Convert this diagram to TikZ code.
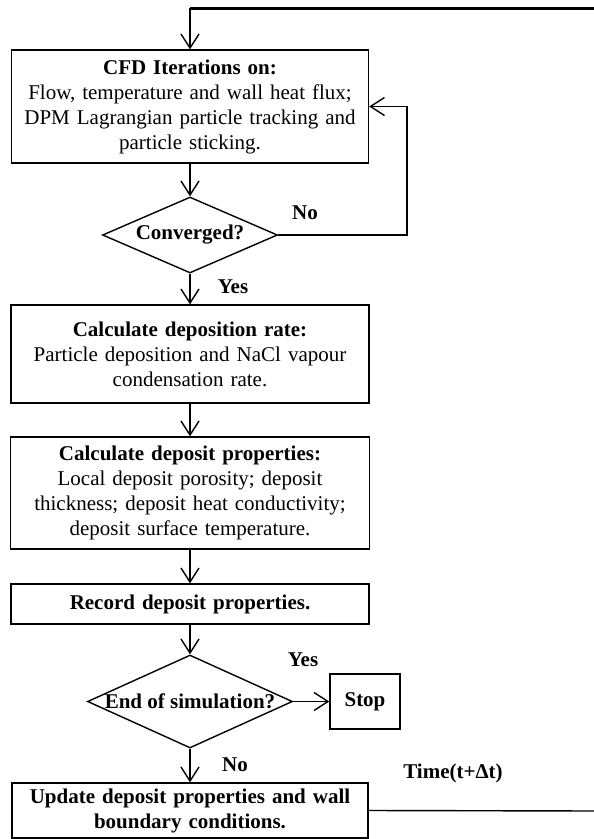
\documentclass[tikz,border=0pt]{standalone}
\usepackage{fontspec}
\setmainfont{Liberation Serif}
\usetikzlibrary{shapes.geometric,arrows.meta}
\begin{document}
\begin{tikzpicture}[x=1pt,y=-1pt,
  every node/.style={font=\fontsize{21}{25}\selectfont},
  box/.style={draw,line width=1.4pt,inner sep=0pt,align=center,text width=350pt},
  dia/.style={draw,diamond,line width=1.4pt,inner sep=0pt},
  arr/.style={line width=1.4pt,-{Straight Barb[length=14pt,width=18pt,line width=1.4pt]}},
  lbl/.style={font=\bfseries\fontsize{21}{25}\selectfont}
]
\useasboundingbox (0,0) rectangle (594,839);

\node[box,minimum width=357pt,minimum height=113pt] (b1) at (190,106.5)
  {\textbf{CFD Iterations on:}\\Flow, temperature and wall heat flux;\\DPM Lagrangian particle tracking and\\particle sticking.};
\node[dia,minimum width=175pt,minimum height=76pt] (d1) at (190,235) {};
\node[lbl] at (d1) {Converged?};
\node[box,minimum width=358pt,minimum height=98pt] (b2) at (190,354)
  {\textbf{Calculate deposition rate:}\\Particle deposition and NaCl vapour\\condensation rate.};
\node[box,minimum width=359pt,minimum height=112pt] (b3) at (190,493)
  {\textbf{Calculate deposit properties:}\\Local deposit porosity; deposit\\thickness; deposit heat conductivity;\\deposit surface temperature.};
\node[box,minimum width=358pt,minimum height=40pt,font=\bfseries\fontsize{21}{25}\selectfont] (b4) at (190,604)
  {Record deposit properties.};
\node[dia,minimum width=205pt,minimum height=93pt] (d2) at (190,701.5) {};
\node[lbl] at (d2) {End of simulation?};
\node[box,text width=60pt,minimum width=70pt,minimum height=55pt,font=\bfseries\fontsize{21}{25}\selectfont] (stop) at (365,701.5) {Stop};
\node[box,minimum width=356pt,minimum height=55pt,font=\bfseries\fontsize{21}{25}\selectfont] (upd) at (190,810.5)
  {Update deposit properties and wall\\boundary conditions.};

\node[lbl] (no1) at (305,213) {No};
\node[lbl] (yes1) at (233,287) {Yes};
\node[lbl] (yes2) at (303,660) {Yes};
\node[lbl] (no2) at (235,765) {No};
\node[lbl] (time) at (453,773) {Time(t+Δt)};

\coordinate (tr) at (600,8);
\coordinate (tl) at (190,8);
\coordinate (br) at (600,811);
\coordinate (loopc) at (407,106.5);

\draw[arr] (b1.south) -- (d1.north);
\draw[arr] (d1.south) -- (b2.north);
\draw[arr] (b2.south) -- (b3.north);
\draw[arr] (b3.south) -- (b4.north);
\draw[arr] (b4.south) -- (d2.north);
\draw[arr] (d2.east) -- (stop.west);
\draw[arr] (d2.south) -- (upd.north);
\draw[arr] (d1.east) -| (loopc) -- (b1.east);
\draw[line width=1.4pt] (upd.east) -- (br) -- (tr);
\draw[line width=3pt] (tr) -- (tl);
\draw[arr] (tl) -- (b1.north);
\end{tikzpicture}
\end{document}
